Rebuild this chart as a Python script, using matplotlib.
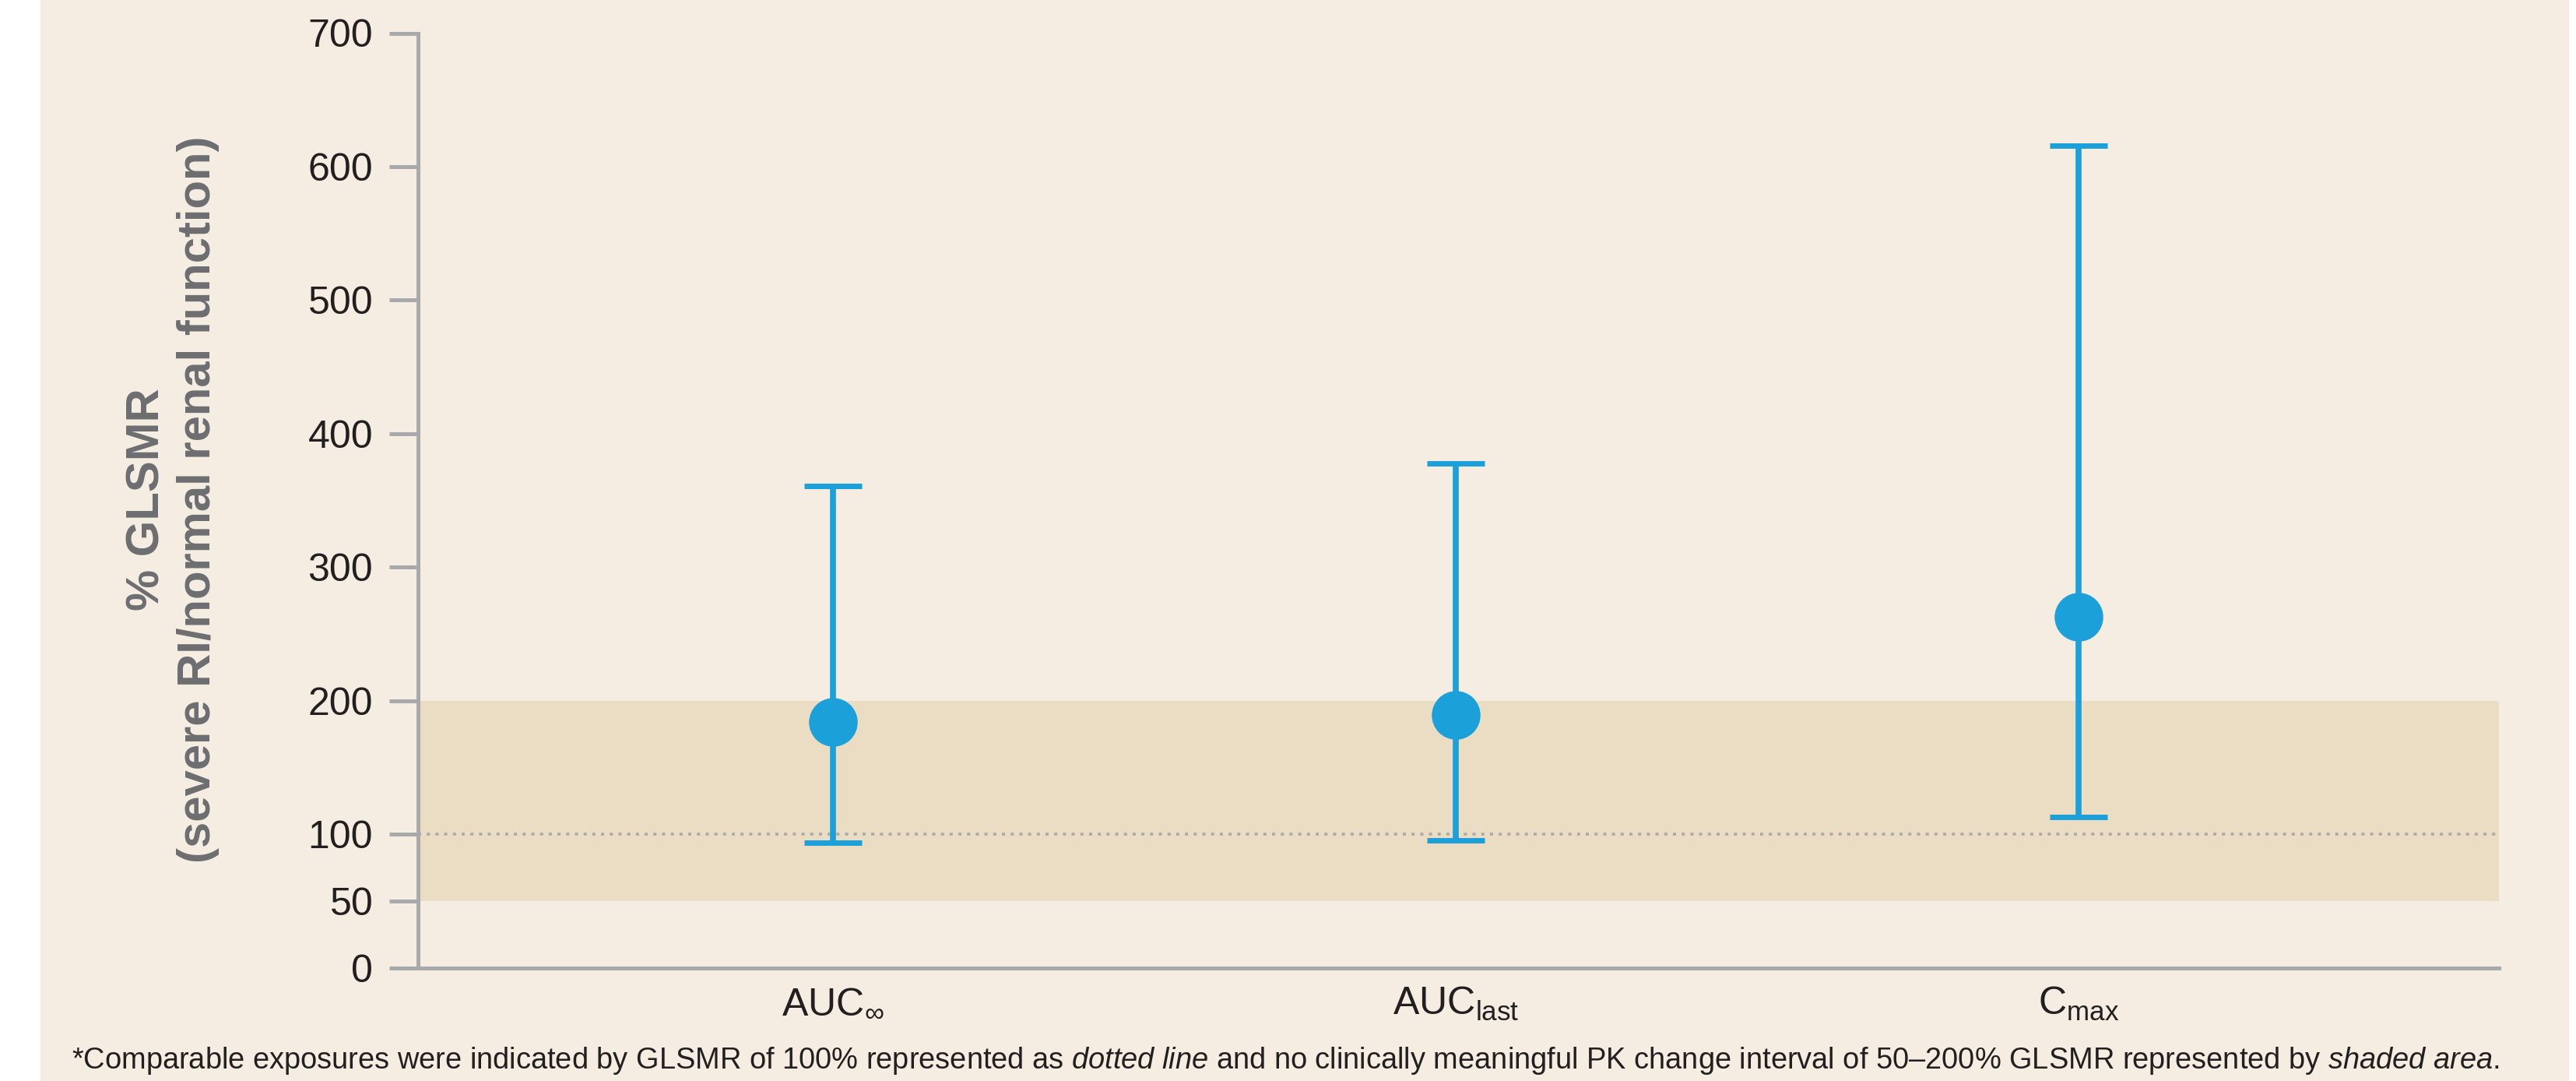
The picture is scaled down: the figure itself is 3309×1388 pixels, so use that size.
import matplotlib
matplotlib.use('Agg')
import matplotlib.pyplot as plt
from matplotlib.patches import Rectangle

# Fonts: Arial-like
plt.rcParams['font.family'] = ['Liberation Sans', 'DejaVu Sans']
plt.rcParams['mathtext.fontset'] = 'custom'
plt.rcParams['mathtext.rm'] = 'Liberation Sans'
plt.rcParams['mathtext.it'] = 'Liberation Sans:italic'
plt.rcParams['mathtext.default'] = 'regular'

# ---------- data ----------
parameters = ['AUC$_{∞}$', 'AUC$_{last}$', 'C$_{max}$']
glsmr = [184, 189.6, 262.6]
ci_low = [93.6, 95.2, 113]
ci_high = [361, 378, 615.7]
y_ticks = [0, 50, 100, 200, 300, 400, 500, 600, 700]
ref_line = 100
band = (50, 200)

# ---------- colours ----------
BG = '#F5EDE1'
SHADE = '#EADDC3'
BLUE = '#1BA0D9'
GREY = '#A7A9AC'
TEXT = '#231F20'
LABEL = '#6D6E71'

W, H, DPI = 3309, 1388, 100
fig = plt.figure(figsize=(W / DPI, H / DPI), dpi=DPI, facecolor='white')

# beige panel (white strip left & right)
fig.patches.append(Rectangle((52 / W, 0), (3300 - 52) / W, 1, transform=fig.transFigure,
                             facecolor=BG, edgecolor='none', zorder=-10))

ax_left, ax_right = 537, 3210
ax_top, ax_bottom = 42.5, 1242.7
ax = fig.add_axes([ax_left / W, 1 - ax_bottom / H, (ax_right - ax_left) / W, (ax_bottom - ax_top) / H])
ax.set_facecolor('none')
ax.set_zorder(5)

xs = list(range(len(parameters)))

# shaded band + reference line
ax.axhspan(band[0], band[1], color=SHADE, lw=0, zorder=1)
ax.axhline(ref_line, color=GREY, lw=2.6, linestyle=(0, (1.1, 2.0)), zorder=2)

# 90% CI bars, then the point estimates on top
yerr = [[g - lo for g, lo in zip(glsmr, ci_low)], [hi - g for g, hi in zip(glsmr, ci_high)]]
ax.errorbar(xs, glsmr, yerr=yerr, fmt='none', ecolor=BLUE,
            elinewidth=5.5, capsize=26.3, capthick=5, zorder=3)
ax.plot(xs, glsmr, 'o', color=BLUE, ms=45, mew=0, zorder=4)

ax.set_xlim(-0.666, 2.675)
ax.set_ylim(0, 700)
ax.set_yticks(y_ticks)
ax.set_xticks(xs, parameters)

for s in ['top', 'right']:
    ax.spines[s].set_visible(False)
for s in ['left', 'bottom']:
    ax.spines[s].set_color(GREY)
    ax.spines[s].set_linewidth(3.6)

ax.tick_params(axis='y', length=26.6, width=3.6, color=GREY, pad=15, labelsize=36, labelcolor=TEXT)
ax.tick_params(axis='x', length=0, pad=16, labelsize=36, labelcolor=TEXT)

# y label
fig.text(282 / W, 1 - 641 / H, '% GLSMR\n(severe RI/normal renal function)', rotation=90,
         ha='right', va='center', multialignment='center', fontsize=43, fontweight='bold',
         color=LABEL, linespacing=1.25)

# footnote
fig.text(92 / W, 1 - 1372 / H,
         r'*Comparable exposures were indicated by GLSMR of 100% represented as $\mathit{dotted\ line}$'
         r' and no clinically meaningful PK change interval of 50–200% GLSMR represented by $\mathit{shaded\ area}$.',
         ha='left', va='baseline', fontsize=27.4, color=TEXT)

fig.savefig('out.png', dpi=DPI, facecolor='white')
